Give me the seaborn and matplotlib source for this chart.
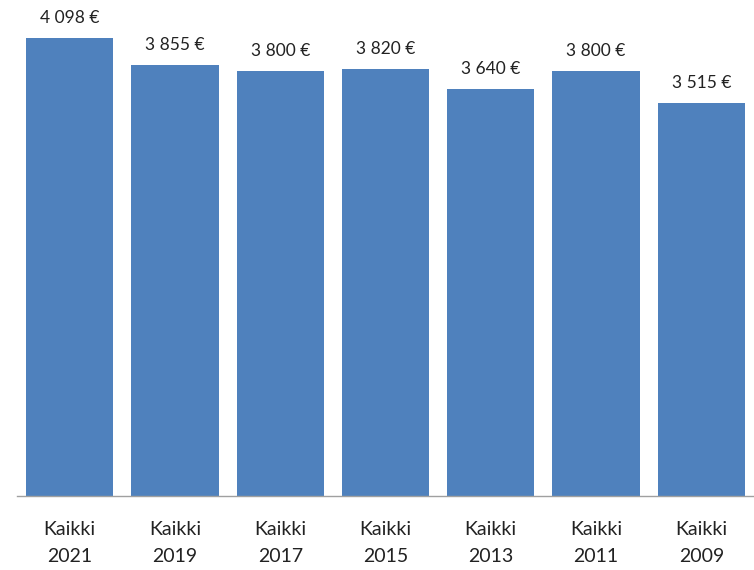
import matplotlib
matplotlib.use("Agg")
import matplotlib.pyplot as plt
import seaborn as sns
import pandas as pd

categories = ["Kaikki\n2021", "Kaikki\n2019", "Kaikki\n2017", "Kaikki\n2015",
              "Kaikki\n2013", "Kaikki\n2011", "Kaikki\n2009"]
values = [4098, 3855, 3800, 3820, 3640, 3800, 3515]
value_labels = ["4 098 €", "3 855 €", "3 800 €", "3 820 €", "3 640 €", "3 800 €", "3 515 €"]

sns.set_theme(style="white")
plt.rcParams['font.family'] = ['Lato', 'DejaVu Sans']

df = pd.DataFrame({"cat": categories, "val": values})

fig = plt.figure(figsize=(7.54, 5.70), dpi=100)
ax = fig.add_axes([17/754, 1 - 496/570, 1 - 17/754, 496/570])
sns.barplot(data=df, x="cat", y="val", color="#4F81BD", saturation=1,
            width=0.83, linewidth=0, ax=ax)

ax.set_xlim(-0.5, 6.5)
ax.set_ylim(0, 4098 * 496 / 458)
ax.set_xlabel("")
ax.set_ylabel("")
ax.set_yticks([])
for s in ["top", "right", "left"]:
    ax.spines[s].set_visible(False)
ax.spines["bottom"].set_color("#A0A0A0")
ax.spines["bottom"].set_linewidth(1.0)
ax.tick_params(axis="x", length=0, pad=18, labelsize=14, colors="#222222")
for lbl in ax.get_xticklabels():
    lbl.set_linespacing(1.75)

for i, (v, t) in enumerate(zip(values, value_labels)):
    ax.annotate(t, (i, v), xytext=(0, 8.5), textcoords="offset points",
                ha="center", va="bottom", fontsize=12.5, color="#222222")

fig.savefig("out.png", dpi=100)
